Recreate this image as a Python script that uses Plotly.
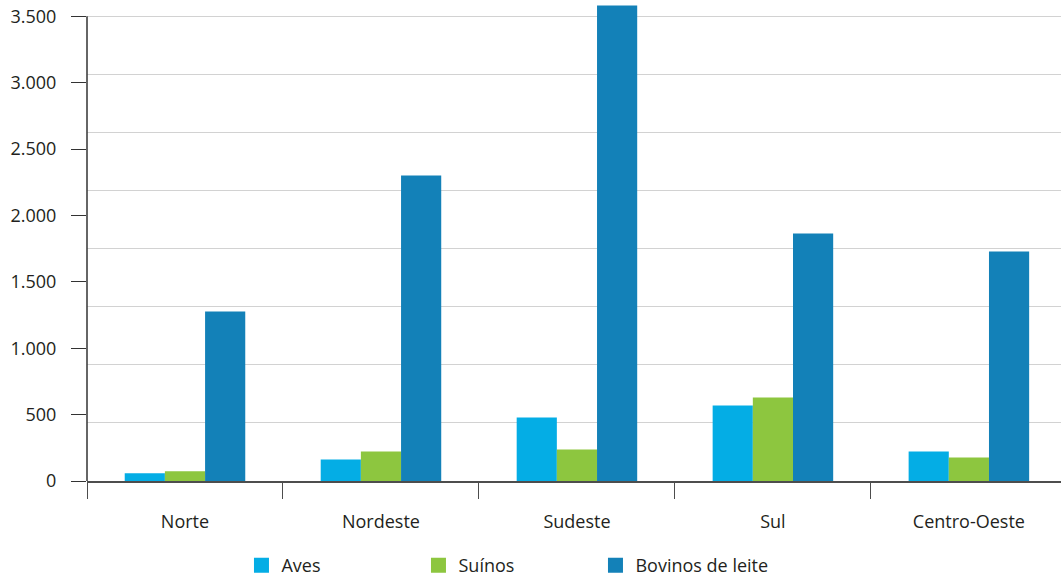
import plotly.graph_objects as go

regions = ["Norte", "Nordeste", "Sudeste", "Sul", "Centro-Oeste"]
aves = [59, 162, 478, 569, 222]
suinos = [74, 222, 237, 629, 177]
bovinos = [1276, 2300, 3581, 1864, 1728]
series_names = ["Aves", "Suínos", "Bovinos de leite"]
colors = ["#04ade5", "#8dc63f", "#1381b8"]
y_tickvals = [0, 500, 1000, 1500, 2000, 2500, 3000, 3500]
y_ticktext = ["0", "500", "1.000", "1.500", "2.000", "2.500", "3.000", "3.500"]

FONT = "Open Sans"
TXT = "#231f20"

fig = go.Figure()
for name, vals, col in zip(series_names, [aves, suinos, bovinos], colors):
    fig.add_trace(go.Bar(x=regions, y=vals, name=name, showlegend=False,
                         marker=dict(color=col, line=dict(width=0))))
# legend-only entries with larger square swatches
for name, col in zip(series_names, colors):
    fig.add_trace(go.Scatter(x=[None], y=[None], mode="markers", name=name,
                             marker=dict(symbol="square", size=15, color=col, line=dict(width=0))))

fig.update_layout(
    width=1061, height=576,
    barmode="group", bargap=0.385, bargroupgap=0,
    plot_bgcolor="white", paper_bgcolor="white",
    margin=dict(l=87, r=0, t=0, b=95, autoexpand=False),
    font=dict(family=FONT, size=18, color=TXT),
    showlegend=True,
    legend=dict(orientation="h", x=0.1586, xanchor="left", y=-0.176, yanchor="middle",
                entrywidth=132, entrywidthmode="pixels", font=dict(size=18, color=TXT),
                itemclick=False, bgcolor="rgba(0,0,0,0)"),
)
fig.update_xaxes(
    range=[-0.5, 4.47], showgrid=False, showline=True, linecolor="#4d4d4d", linewidth=1.5,
    ticks="outside", tickson="boundaries", ticklen=16, tickcolor="#4d4d4d", tickwidth=1,
    ticklabelstandoff=24, tickfont=dict(size=18, color=TXT),
)
fig.update_yaxes(
    range=[0, 3622], showgrid=False, zeroline=False, showline=False,
    tickvals=y_tickvals, ticktext=y_ticktext,
    ticks="outside", ticklen=15, tickcolor="#333333", tickwidth=1.2,
    ticklabelstandoff=11, tickfont=dict(size=18, color=TXT),
    minor=dict(dtick=437.5, tick0=0, showgrid=True, gridcolor="#d2d2d2", gridwidth=1.2),
)
fig.add_shape(type="line", xref="paper", yref="y", x0=0, x1=0, y0=0, y1=y_tickvals[-1],
              line=dict(color="#333333", width=1.5), layer="above")

fig.write_html("out.html")
